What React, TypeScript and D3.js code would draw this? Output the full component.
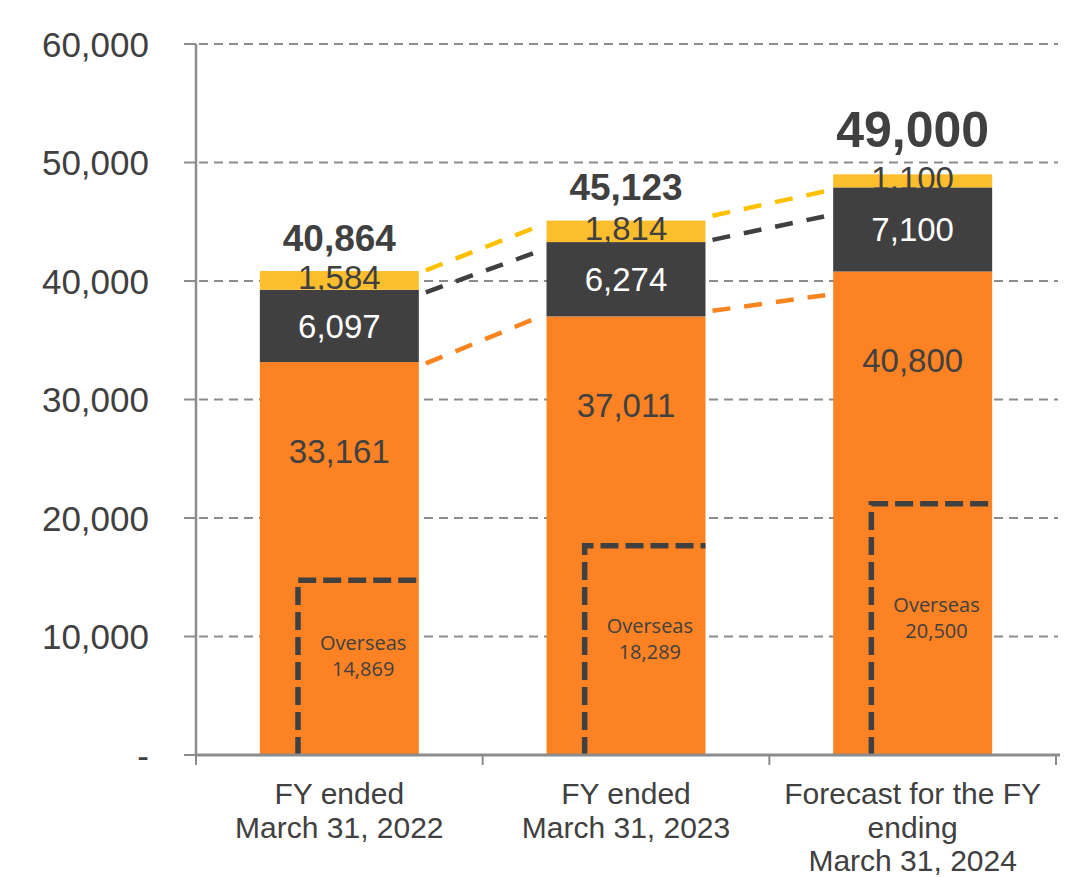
import React from "react";
import * as d3 from "d3";

const categories: string[][] = [
  ["FY ended", "March 31, 2022"],
  ["FY ended", "March 31, 2023"],
  ["Forecast for the FY", "ending", "March 31, 2024"],
];
const orangeValues = [33161, 37011, 40800];
const darkValues = [6097, 6274, 7100];
const yellowValues = [1584, 1814, 1100];
const totalLabels = ["40,864", "45,123", "49,000"];
const overseasValues = ["14,869", "18,289", "20,500"];
const overseasLevels = [14750, 17650, 21200];
// connector lines between bars: [start value, end value] for each gap
const yellowLinks = [[40670, 44890], [45380, 47720]];
const darkLinks = [[38830, 42750], [43350, 45610]];
const orangeLinks = [[32800, 37220], [37400, 38900]];
const yTicks = [0, 10000, 20000, 30000, 40000, 50000, 60000];

const W = 1077;
const H = 877;
const FONT = "'Liberation Sans', Arial, sans-serif";
const C_ORANGE = "#FC8224";
const C_DARK = "#404040";
const C_YELLOW = "#FDBE2E";
const C_GRID = "#8C8C8C";

export default function App() {
  const left = 196;
  const right = 1056;
  const y = d3.scaleLinear().domain([0, 60000]).range([755, 44]);
  const x = d3
    .scaleBand<number>()
    .domain(categories.map((_, i) => i))
    .range([left, right])
    .paddingInner(0.4454)
    .paddingOuter(0.2227);
  const bw = x.bandwidth();
  const step = x.step();
  const fmt = (v: number) => (v === 0 ? "-" : d3.format(",")(v));

  const stacks = categories.map((_, i) => {
    const o = orangeValues[i];
    const d = darkValues[i];
    const yl = yellowValues[i];
    return { o0: 0, o1: o, d0: o, d1: o + d, y0: o + d, y1: o + d + yl };
  });

  const links = [
    { data: yellowLinks, color: "#FFC000" },
    { data: darkLinks, color: C_DARK },
    { data: orangeLinks, color: "#FA8420" },
  ];

  return (
    <svg
      width={W}
      height={H}
      style={{ position: "absolute", left: 0, top: 0, background: "#fff" }}
      fontFamily={FONT}
    >
      {/* grid lines */}
      {yTicks
        .filter((t) => t > 0)
        .map((t) => (
          <line
            key={"g" + t}
            x1={left + 3}
            x2={1058}
            y1={y(t)}
            y2={y(t)}
            stroke={C_GRID}
            strokeWidth={2}
            strokeDasharray="9,6"
          />
        ))}
      {/* y tick marks */}
      {yTicks.map((t) => (
        <line
          key={"yt" + t}
          x1={184}
          x2={left}
          y1={y(t)}
          y2={y(t)}
          stroke={C_GRID}
          strokeWidth={2}
        />
      ))}
      {/* y labels */}
      {yTicks.map((t) => (
        <text
          key={"yl" + t}
          x={149}
          y={y(t)}
          dy="0.36em"
          textAnchor="end"
          fontSize={35}
          fill={C_DARK}
        >
          {fmt(t)}
        </text>
      ))}

      {/* bars */}
      {stacks.map((s, i) => {
        const x0 = x(i)!;
        return (
          <g key={"b" + i}>
            <rect x={x0} width={bw} y={y(s.o1)} height={y(s.o0) - y(s.o1)} fill={C_ORANGE} />
            <rect x={x0} width={bw} y={y(s.d1)} height={y(s.d0) - y(s.d1)} fill={C_DARK} />
            <rect x={x0} width={bw} y={y(s.y1)} height={y(s.y0) - y(s.y1)} fill={C_YELLOW} />
          </g>
        );
      })}

      {/* overseas L shapes */}
      {stacks.map((_, i) => {
        const x0 = x(i)!;
        const vx = x0 + bw * 0.24;
        const ty = y(overseasLevels[i]);
        return (
          <path
            key={"ov" + i}
            d={`M${vx},${y(0)} L${vx},${ty} L${x0 + bw},${ty}`}
            fill="none"
            stroke={C_DARK}
            strokeWidth={5.5}
            strokeDasharray="18,7"
          />
        );
      })}
      {stacks.map((_, i) => {
        const x0 = x(i)!;
        const cx = x0 + bw * 0.65;
        const base = (y(0) + y(overseasLevels[i])) / 2 - 17.5;
        return (
          <g key={"ot" + i} fontFamily="'Open Sans', 'Noto Sans', sans-serif" fontSize={20} fill={C_DARK}>
            <text x={cx} y={base} textAnchor="middle">
              Overseas
            </text>
            <text x={cx} y={base + 26} textAnchor="middle">
              {overseasValues[i]}
            </text>
          </g>
        );
      })}

      {/* connectors */}
      {links.map((l, li) =>
        l.data.map((pair, gi) => {
          const xa = x(gi)! + bw;
          const xb = x(gi + 1)!;
          const ya = y(pair[0]);
          const yb = y(pair[1]);
          const t0 = 7 / (xb - xa);
          const t1 = 1 - 8 / (xb - xa);
          const ix = d3.interpolateNumber(xa, xb);
          const iy = d3.interpolateNumber(ya, yb);
          return (
            <line
              key={"c" + li + "-" + gi}
              x1={ix(t0)}
              y1={iy(t0)}
              x2={ix(t1)}
              y2={iy(t1)}
              stroke={l.color}
              strokeWidth={4.5}
              strokeDasharray="18,14"
            />
          );
        })
      )}

      {/* segment labels */}
      {stacks.map((s, i) => {
        const cx = x(i)! + bw / 2;
        return (
          <g key={"sl" + i} fontSize={33} textAnchor="middle">
            <text x={cx} y={y(s.o1) + 89} dy="0.36em" fill={C_DARK}>
              {d3.format(",")(orangeValues[i])}
            </text>
            <text x={cx} y={(y(s.d0) + y(s.d1)) / 2} dy="0.36em" fill="#ffffff">
              {d3.format(",")(darkValues[i])}
            </text>
            <text x={cx} y={(y(s.y0) + y(s.y1)) / 2 - 3} dy="0.36em" fill={C_DARK}>
              {d3.format(",")(yellowValues[i])}
            </text>
          </g>
        );
      })}
      {/* total labels */}
      {stacks.map((s, i) => {
        const cx = x(i)! + bw / 2;
        const fs = i === 2 ? 50 : 37;
        return (
          <text
            key={"tl" + i}
            x={cx}
            y={y(s.y1) - fs * 0.55}
            textAnchor="middle"
            fontSize={fs}
            fontWeight="bold"
            fill={C_DARK}
          >
            {totalLabels[i]}
          </text>
        );
      })}

      {/* axes */}
      <line x1={left} x2={left} y1={y(60000)} y2={y(0)} stroke={C_GRID} strokeWidth={2.5} />
      <line x1={left} x2={1060} y1={y(0)} y2={y(0)} stroke={C_GRID} strokeWidth={3} />
      {d3.range(categories.length + 1).map((k) => (
        <line
          key={"xt" + k}
          x1={left + k * step}
          x2={left + k * step}
          y1={y(0)}
          y2={y(0) + 10}
          stroke={C_GRID}
          strokeWidth={2}
        />
      ))}
      {/* x labels */}
      {categories.map((lines, i) => (
        <text
          key={"xl" + i}
          x={x(i)! + bw / 2}
          y={804}
          textAnchor="middle"
          fontSize={30}
          fill={C_DARK}
        >
          {lines.map((ln, j) => (
            <tspan key={j} x={x(i)! + bw / 2} dy={j === 0 ? 0 : 33.5}>
              {ln}
            </tspan>
          ))}
        </text>
      ))}
    </svg>
  );
}
